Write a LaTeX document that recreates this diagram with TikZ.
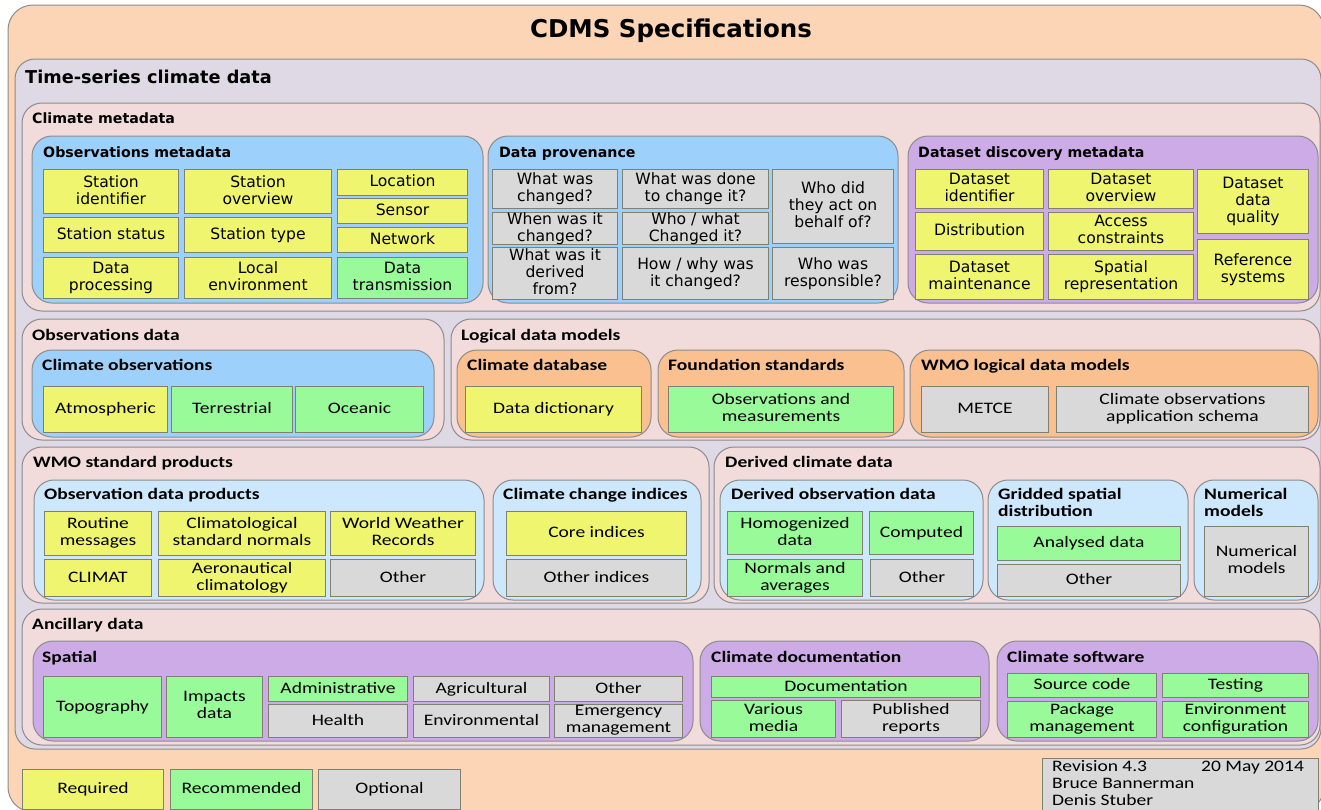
\documentclass[tikz,border=0pt]{standalone}
\usepackage{fontspec}
\usepackage{tikz}
\usetikzlibrary{positioning}

\newfontfamily\verfont{DejaVu Sans}
\newfontfamily\calfont{Carlito}[FakeStretch=1.22]

\definecolor{peach}{HTML}{FBD5B5}
\definecolor{lavender}{HTML}{DED9E5}
\definecolor{blush}{HTML}{F2DCDB}
\definecolor{skyblue}{HTML}{9DD1FB}
\definecolor{paleblue}{HTML}{CDE8FC}
\definecolor{lilac}{HTML}{CDABE6}
\definecolor{apricot}{HTML}{FAC090}
\definecolor{reqyellow}{HTML}{F0F570}
\definecolor{recgreen}{HTML}{99FA99}
\definecolor{optgray}{HTML}{D9D9D9}
\definecolor{edgegray}{HTML}{8C8C8C}
\definecolor{celledge}{HTML}{7F8070}

% same height and depth for every cell text
\newcommand{\cellstrut}{\rule[-3.5pt]{0pt}{15pt}}
% box from (x1,y1) to (x2,y2) in pixels
\newcommand{\cellat}[7]{%
  \node[#1,anchor=north west,minimum width={#4-#2},minimum height={#5-#3}] (#6) at (#2,#3) {#7};}

\begin{document}
\begin{tikzpicture}[x=1pt,y=-1pt,
  grp/.style={draw=edgegray,line width=1pt,rounded corners=20pt},
  cell/.style={draw=celledge,line width=1pt,inner sep=0pt,align=center,
    execute at begin node=\cellstrut,execute at end node=\cellstrut},
  req/.style={cell,fill=reqyellow},
  rec/.style={cell,fill=recgreen},
  opt/.style={cell,fill=optgray},
  vtxt/.style={font=\verfont\fontsize{15.6}{17}\selectfont},
  ctxt/.style={font=\calfont\fontsize{16}{17}\selectfont},
  vhead/.style={font=\verfont\bfseries\fontsize{14.2}{17}\selectfont,anchor=base west,inner sep=0pt},
  chead/.style={font=\calfont\bfseries\fontsize{16}{17}\selectfont,anchor=base west,inner sep=0pt},
  rtxt/.style={ctxt,anchor=base west,inner sep=0pt}]

  \useasboundingbox (0,0) rectangle (1321,809);
  \clip (0,0) rectangle (1321,809);

  % frames
  \draw[grp,fill=peach,rounded corners=25pt] (8,5) rectangle (1324,812);
  \draw[grp,fill=lavender] (15,59) rectangle (1321,749);
  \draw[grp,fill=blush] (22,103) rectangle (1320,311);
  \draw[grp,fill=skyblue] (32,136) rectangle (483,303);
  \draw[grp,fill=skyblue] (488,136) rectangle (898,303);
  \draw[grp,fill=lilac] (908,136) rectangle (1318,303);

  \draw[grp,fill=blush] (22,319) rectangle (444,440);
  \draw[grp,fill=skyblue] (32,350) rectangle (434,437);
  \draw[grp,fill=blush] (451,319) rectangle (1320,440);
  \draw[grp,fill=apricot] (457,350) rectangle (651,437);
  \draw[grp,fill=apricot] (658,350) rectangle (904,437);
  \draw[grp,fill=apricot] (910,350) rectangle (1318,437);

  \draw[grp,fill=blush] (22,447) rectangle (709,603);
  \draw[grp,fill=paleblue] (34,480) rectangle (484,600);
  \draw[grp,fill=paleblue] (493,480) rectangle (701,600);
  \draw[grp,fill=blush] (714,447) rectangle (1320,603);
  \draw[grp,fill=paleblue] (720,480) rectangle (983,600);
  \draw[grp,fill=paleblue] (988,480) rectangle (1188,600);
  \draw[grp,fill=paleblue] (1194,480) rectangle (1318,600);

  \draw[grp,fill=blush] (22,609) rectangle (1320,745);
  \draw[grp,fill=lilac] (33,641) rectangle (693,741);
  \draw[grp,fill=lilac] (700,641) rectangle (989,741);
  \draw[grp,fill=lilac] (997,641) rectangle (1318,741);

  % titles
  \node[font=\verfont\bfseries\fontsize{24.5}{28}\selectfont,anchor=base,inner sep=0pt] (title) at (671,37) {CDMS Specifications};
  \node[vhead,font=\verfont\bfseries\fontsize{17.7}{20}\selectfont] (tslbl) at (25,83) {Time-series climate data};
  \node[vhead] (cmlbl) at (32,123) {Climate metadata};
  \node[vhead] (omlbl) at (43,157) {Observations metadata};
  \node[vhead] (dplbl) at (499,157) {Data provenance};
  \node[vhead] (ddlbl) at (918,157) {Dataset discovery metadata};

  \node[chead] (odlbl) at (32,340) {Observations data};
  \node[chead] (colbl) at (42,370) {Climate observations};
  \node[chead] (ldlbl) at (461,340) {Logical data models};
  \node[chead] (cdblbl) at (467,370) {Climate database};
  \node[chead] (fslbl) at (668,370) {Foundation standards};
  \node[chead] (wlbl) at (921,370) {WMO logical data models};

  \node[chead] (wsplbl) at (33,467) {WMO standard products};
  \node[chead] (odplbl) at (44,499) {Observation data products};
  \node[chead] (ccilbl) at (503,499) {Climate change indices};
  \node[chead] (dcdlbl) at (725,467) {Derived climate data};
  \node[chead] (dodlbl) at (731,499) {Derived observation data};
  \node[chead] (gsdlbl) at (998,499) {Gridded spatial};
  \node[chead] (gsdlbl2) at (998,516) {distribution};
  \node[chead] (nmlbl) at (1204,499) {Numerical};
  \node[chead] (nmlbl2) at (1204,516) {models};

  \node[chead] (anclbl) at (32,629) {Ancillary data};
  \node[chead] (splbl) at (42,662) {Spatial};
  \node[chead] (cdoclbl) at (711,662) {Climate documentation};
  \node[chead] (cswlbl) at (1007,662) {Climate software};

  % observations metadata
  \cellat{req,vtxt}{43}{169}{178}{213}{stid}{Station\\identifier}
  \cellat{req,vtxt}{184}{169}{331}{213}{stov}{Station\\overview}
  \cellat{req,vtxt}{337}{169}{467}{195}{loc}{Location}
  \cellat{req,vtxt}{337}{198}{467}{223}{sensor}{Sensor}
  \cellat{req,vtxt}{337}{227}{467}{252}{network}{Network}
  \cellat{req,vtxt}{43}{217}{178}{252}{ststat}{Station status}
  \cellat{req,vtxt}{184}{217}{331}{252}{sttype}{Station type}
  \cellat{req,vtxt}{43}{257}{178}{298}{dproc}{Data\\processing}
  \cellat{req,vtxt}{184}{257}{331}{298}{locenv}{Local\\environment}
  \cellat{rec,vtxt}{337}{257}{467}{298}{dtrans}{Data\\transmission}

  % data provenance
  \cellat{opt,vtxt}{492}{169}{617}{208}{pv1}{What was\\changed?}
  \cellat{opt,vtxt}{622}{169}{768}{208}{pv2}{What was done\\to change it?}
  \cellat{opt,vtxt}{772}{169}{893}{243}{pv3}{Who did\\they act on\\behalf of?}
  \cellat{opt,vtxt}{492}{212}{617}{243}{pv4}{When was it\\changed?}
  \cellat{opt,vtxt}{622}{212}{768}{243}{pv5}{Who / what\\Changed it?}
  \cellat{opt,vtxt}{492}{247}{617}{299}{pv6}{What was it\\derived\\from?}
  \cellat{opt,vtxt}{622}{247}{768}{299}{pv7}{How / why was\\it changed?}
  \cellat{opt,vtxt}{772}{247}{893}{299}{pv8}{Who was\\responsible?}

  % dataset discovery
  \cellat{req,vtxt}{915}{169}{1043}{208}{dsid}{Dataset\\identifier}
  \cellat{req,vtxt}{1048}{169}{1193}{208}{dsov}{Dataset\\overview}
  \cellat{req,vtxt}{1197}{169}{1308}{233}{dsq}{Dataset\\data\\quality}
  \cellat{req,vtxt}{915}{212}{1043}{250}{distr}{Distribution}
  \cellat{req,vtxt}{1048}{212}{1193}{250}{access}{Access\\constraints}
  \cellat{req,vtxt}{915}{254}{1043}{299}{dsmaint}{Dataset\\maintenance}
  \cellat{req,vtxt}{1048}{254}{1193}{299}{spatrep}{Spatial\\representation}
  \cellat{req,vtxt}{1197}{239}{1308}{299}{refsys}{Reference\\systems}

  % observations data, logical data models
  \cellat{req,ctxt}{43}{386}{167}{432}{atmos}{Atmospheric}
  \cellat{rec,ctxt}{171}{386}{292}{432}{terr}{Terrestrial}
  \cellat{rec,ctxt}{295}{386}{423}{432}{ocean}{Oceanic}
  \cellat{req,ctxt}{465}{386}{641}{432}{dict}{Data dictionary}
  \cellat{rec,ctxt}{668}{386}{893}{432}{obsmeas}{Observations and\\measurements}
  \cellat{opt,ctxt}{921}{386}{1048}{432}{metce}{METCE}
  \cellat{opt,ctxt}{1056}{386}{1308}{432}{coas}{Climate observations\\application schema}

  % WMO standard products, derived climate data
  \cellat{req,ctxt}{44}{511}{151}{555}{routine}{Routine\\messages}
  \cellat{req,ctxt}{158}{511}{325}{555}{normals}{Climatological\\standard normals}
  \cellat{req,ctxt}{330}{511}{475}{555}{wwr}{World Weather\\Records}
  \cellat{req,ctxt}{44}{559}{151}{596}{climat}{CLIMAT}
  \cellat{req,ctxt}{158}{559}{325}{596}{aero}{Aeronautical\\climatology}
  \cellat{opt,ctxt}{330}{559}{475}{596}{prodother}{Other}
  \cellat{req,ctxt}{506}{511}{686}{555}{core}{Core indices}
  \cellat{opt,ctxt}{506}{559}{686}{596}{otherind}{Other indices}
  \cellat{rec,ctxt}{727}{511}{862}{554}{homog}{Homogenized\\data}
  \cellat{rec,ctxt}{869}{511}{973}{554}{computed}{Computed}
  \cellat{rec,ctxt}{727}{559}{862}{596}{normavg}{Normals and\\averages}
  \cellat{opt,ctxt}{870}{559}{973}{596}{derother}{Other}
  \cellat{rec,ctxt}{997}{526}{1180}{560}{analysed}{Analysed data}
  \cellat{opt,ctxt}{997}{564}{1180}{596}{gridother}{Other}
  \cellat{opt,ctxt}{1204}{526}{1308}{596}{nummod}{Numerical\\models}

  % ancillary data
  \cellat{rec,ctxt}{43}{676}{161}{737}{topo}{Topography}
  \cellat{rec,ctxt}{166}{676}{262}{737}{impacts}{Impacts\\data}
  \cellat{rec,ctxt}{268}{676}{407}{701}{admin}{Administrative}
  \cellat{opt,ctxt}{413}{676}{549}{701}{agri}{Agricultural}
  \cellat{opt,ctxt}{554}{676}{682}{701}{spatother}{Other}
  \cellat{opt,ctxt}{268}{704}{407}{737}{health}{Health}
  \cellat{opt,ctxt}{413}{704}{549}{737}{environ}{Environmental}
  \cellat{opt,ctxt}{554}{704}{682}{737}{emerg}{Emergency\\management}
  \cellat{rec,ctxt}{711}{676}{980}{697}{docu}{Documentation}
  \cellat{rec,ctxt}{711}{700}{835}{737}{media}{Various\\media}
  \cellat{opt,ctxt}{841}{700}{980}{737}{reports}{Published\\reports}
  \cellat{rec,ctxt}{1007}{673}{1156}{697}{source}{Source code}
  \cellat{rec,ctxt}{1162}{673}{1308}{697}{testing}{Testing}
  \cellat{rec,ctxt}{1007}{701}{1156}{737}{package}{Package\\management}
  \cellat{rec,ctxt}{1162}{701}{1308}{737}{envconf}{Environment\\configuration}

  % legend
  \node[req,ctxt,minimum width=141,minimum height=40,anchor=north west] (required) at (22,769) {Required};
  \node[rec,ctxt,minimum width=142,minimum height=40] (recommended) [right=6pt of required] {Recommended};
  \node[opt,ctxt,minimum width=142,minimum height=40] (optional) [right=5pt of recommended] {Optional};

  % revision
  \cellat{opt}{1042}{758}{1318}{812}{revbox}{}
  \node[rtxt] (rev) at (1052,771) {Revision 4.3};
  \node[rtxt] (revdate) at (1201,771) {20 May 2014};
  \node[rtxt] (author1) at (1052,788) {Bruce Bannerman};
  \node[rtxt] (author2) at (1052,805) {Denis Stuber};
\end{tikzpicture}
\end{document}
